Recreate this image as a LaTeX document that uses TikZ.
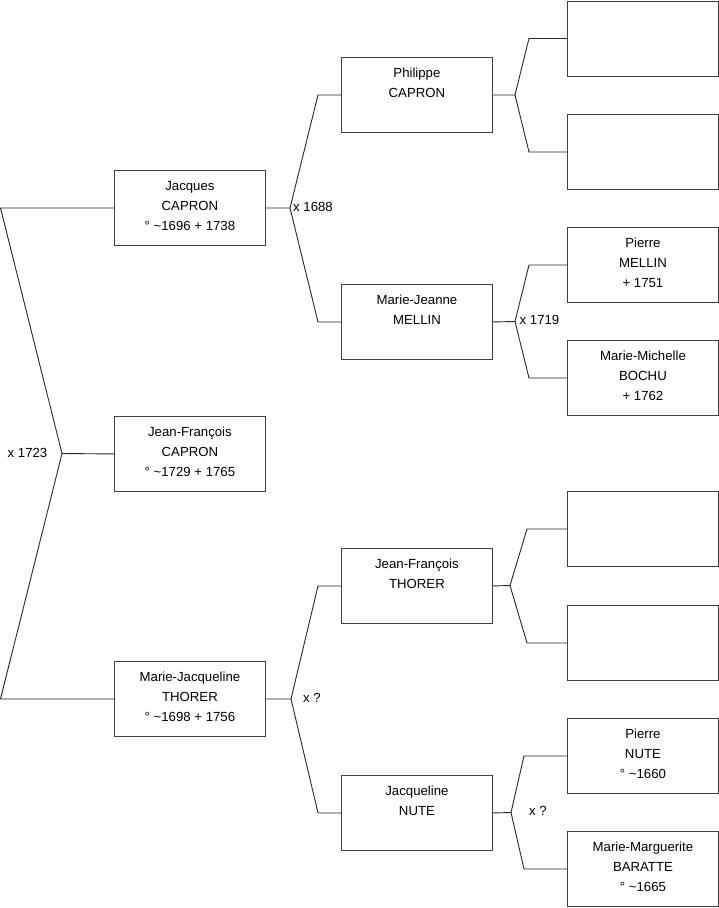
\documentclass[tikz,border=0pt]{standalone}
\usepackage{fontspec}
\setmainfont{Liberation Sans}
\begin{document}
\begin{tikzpicture}[x=1pt,y=1pt,
  person/.style={draw=black!75, line width=0.9pt, minimum width=151pt, minimum height=75pt, inner sep=0pt, anchor=north west},
  pname/.style={align=center, anchor=north, inner sep=0pt, font=\fontsize{13.2}{20}\selectfont},
  link/.style={draw=black!85, line width=0.9pt},
  marr/.style={inner sep=0pt, font=\fontsize{13.2}{15}\selectfont}]
\useasboundingbox (0,0) rectangle (719,-908);
% boxes
\node[person] (JF) at (114,-416) {};
\node[person] (J) at (114,-170) {};
\node[person] (MJ) at (114,-661) {};
\node[person] (P) at (341,-57) {};
\node[person] (MJe) at (341,-284) {};
\node[person] (JFT) at (341,-548) {};
\node[person] (JN) at (341,-775) {};
\node[person] (G1) at (567,-0.5) {};
\node[person] (G2) at (567,-114) {};
\node[person] (PM) at (567,-227) {};
\node[person] (MMB) at (567,-340) {};
\node[person] (G5) at (567,-491) {};
\node[person] (G6) at (567,-605) {};
\node[person] (PN) at (567,-718) {};
\node[person] (MMBa) at (567,-831) {};
% texts
\node[pname] (tJF) at ([yshift=-11pt]JF.north) {Jean-François\\CAPRON\\° \textasciitilde1729 + 1765};
\node[pname] (tJ) at ([yshift=-11pt]J.north) {Jacques\\CAPRON\\° \textasciitilde1696 + 1738};
\node[pname] (tMJ) at ([yshift=-11pt]MJ.north) {Marie-Jacqueline\\THORER\\° \textasciitilde1698 + 1756};
\node[pname] (tP) at ([yshift=-11pt]P.north) {Philippe\\CAPRON};
\node[pname] (tMJe) at ([yshift=-11pt]MJe.north) {Marie-Jeanne\\MELLIN};
\node[pname] (tJFT) at ([yshift=-11pt]JFT.north) {Jean-François\\THORER};
\node[pname] (tJN) at ([yshift=-11pt]JN.north) {Jacqueline\\NUTE};
\node[pname] (tPM) at ([yshift=-11pt]PM.north) {Pierre\\MELLIN\\+ 1751};
\node[pname] (tMMB) at ([yshift=-11pt]MMB.north) {Marie-Michelle\\BOCHU\\+ 1762};
\node[pname] (tPN) at ([yshift=-11pt]PN.north) {Pierre\\NUTE\\° \textasciitilde1660};
\node[pname] (tMMBa) at ([yshift=-11pt]MMBa.north) {Marie-Marguerite\\BARATTE\\° \textasciitilde1665};
% fork points
\coordinate (rtop) at (0.5,-208);
\coordinate (rbot) at (0.5,-699);
\coordinate (f1) at (62,-453.5);
\coordinate (f2) at (290,-208);
\coordinate (f3) at (515,-95);
\coordinate (f4) at (515,-321.5);
\coordinate (f5) at (291,-699);
\coordinate (f6) at (510,-585.5);
\coordinate (f7) at (511,-812.5);
% connectors
\draw[link] (J.west) -- (rtop) -- (f1) -- (JF.west);
\draw[link] (f1) -- (rbot) -- (MJ.west);
\draw[link] (J.east) -- (f2) -- ([xshift=-23pt]P.west) -- (P.west);
\draw[link] (f2) -- ([xshift=-23pt]MJe.west) -- (MJe.west);
\draw[link] (P.east) -- (f3) -- ([xshift=-38pt]G1.west) -- (G1.west);
\draw[link] (f3) -- ([xshift=-38pt]G2.west) -- (G2.west);
\draw[link] (MJe.east) -- (f4) -- ([xshift=-38pt]PM.west) -- (PM.west);
\draw[link] (f4) -- ([xshift=-38pt]MMB.west) -- (MMB.west);
\draw[link] (MJ.east) -- (f5) -- ([xshift=-23pt]JFT.west) -- (JFT.west);
\draw[link] (f5) -- ([xshift=-23pt]JN.west) -- (JN.west);
\draw[link] (JFT.east) -- (f6) -- ([xshift=-40pt]G5.west) -- (G5.west);
\draw[link] (f6) -- ([xshift=-40pt]G6.west) -- (G6.west);
\draw[link] (JN.east) -- (f7) -- ([xshift=-43pt]PN.west) -- (PN.west);
\draw[link] (f7) -- ([xshift=-43pt]MMBa.west) -- (MMBa.west);
% marriage labels
\node[marr] (m1) at (27.5,-453) {x 1723};
\node[marr] (m2) at (313,-207) {x 1688};
\node[marr] (m3) at (539.5,-320) {x 1719};
\node[marr] (m4) at (312,-698) {x ?};
\node[marr] (m5) at (538,-811) {x ?};
\end{tikzpicture}
\end{document}
